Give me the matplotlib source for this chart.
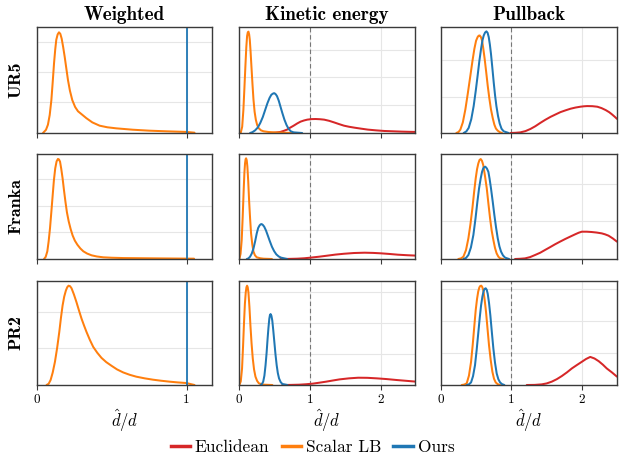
import matplotlib
matplotlib.use("Agg")
import matplotlib.pyplot as plt
from matplotlib.lines import Line2D

plt.rcParams['font.family'] = ['cmr10']
plt.rcParams['mathtext.fontset'] = 'cm'
plt.rcParams['axes.unicode_minus'] = False

# ---------------- data (relative density) ----------------
robots = ["UR5", "Franka", "PR2"]
methods = ["Weighted", "Kinetic energy", "Pullback"]
legend_labels = ["Euclidean", "Scalar LB", "Ours"]

# UR5 - Weighted
ur5_w_lb_x = [0.04, 0.06, 0.073, 0.085, 0.096, 0.105, 0.114, 0.122, 0.129, 0.138, 0.147, 0.156, 0.165, 0.175, 0.185, 0.196, 0.207, 0.22, 0.236, 0.255, 0.274, 0.30, 0.33, 0.37, 0.419, 0.47, 0.53, 0.64, 0.75, 0.864, 1.0, 1.053]
ur5_w_lb_y = [0.0, 0.03, 0.078, 0.17, 0.31, 0.48, 0.66, 0.79, 0.88, 0.93, 0.95, 0.935, 0.89, 0.81, 0.72, 0.61, 0.50, 0.40, 0.31, 0.245, 0.205, 0.175, 0.14, 0.10, 0.069, 0.054, 0.044, 0.031, 0.022, 0.016, 0.01, 0.003]
# UR5 - Kinetic energy
ur5_k_lb_x = [0.024, 0.045, 0.062, 0.076, 0.09, 0.103, 0.114, 0.124, 0.133, 0.143, 0.152, 0.163, 0.175, 0.19, 0.204, 0.22, 0.237, 0.255, 0.275, 0.31, 0.346, 0.41, 0.488, 0.77]
ur5_k_lb_y = [0.0, 0.06, 0.22, 0.42, 0.63, 0.81, 0.915, 0.95, 0.956, 0.93, 0.88, 0.77, 0.63, 0.46, 0.315, 0.20, 0.126, 0.078, 0.047, 0.025, 0.016, 0.01, 0.006, 0.0]
ur5_k_ours_x = [0.156, 0.19, 0.227, 0.265, 0.30, 0.335, 0.37, 0.40, 0.43, 0.455, 0.474, 0.49, 0.50, 0.518, 0.536, 0.56, 0.583, 0.61, 0.64, 0.67, 0.70, 0.73, 0.77, 0.89]
ur5_k_ours_y = [0.0, 0.008, 0.025, 0.052, 0.095, 0.15, 0.22, 0.28, 0.33, 0.36, 0.37, 0.375, 0.375, 0.365, 0.347, 0.305, 0.252, 0.19, 0.126, 0.075, 0.038, 0.016, 0.006, 0.0]
ur5_k_eu_x = [0.44, 0.52, 0.583, 0.63, 0.678, 0.72, 0.77, 0.82, 0.867, 0.915, 0.962, 1.02, 1.08, 1.14, 1.2, 1.27, 1.34, 1.41, 1.48, 1.55, 1.63, 1.72, 1.815, 1.93, 2.05, 2.17, 2.29, 2.4, 2.5]
ur5_k_eu_y = [0.0, 0.004, 0.01, 0.02, 0.032, 0.05, 0.069, 0.09, 0.107, 0.118, 0.126, 0.131, 0.132, 0.13, 0.126, 0.115, 0.10, 0.084, 0.069, 0.059, 0.05, 0.041, 0.032, 0.025, 0.019, 0.016, 0.013, 0.011, 0.01]
# UR5 - Pullback
ur5_p_lb_x = [0.218, 0.25, 0.275, 0.31, 0.346, 0.38, 0.417, 0.447, 0.474, 0.498, 0.52, 0.535, 0.55, 0.567, 0.583, 0.60, 0.62, 0.642, 0.664, 0.687, 0.71, 0.735, 0.758, 0.78, 0.806, 0.835, 0.867]
ur5_p_lb_y = [0.0, 0.01, 0.032, 0.10, 0.222, 0.37, 0.54, 0.68, 0.794, 0.87, 0.905, 0.918, 0.92, 0.905, 0.873, 0.80, 0.70, 0.575, 0.444, 0.325, 0.222, 0.14, 0.079, 0.042, 0.022, 0.008, 0.0]
ur5_p_ours_x = [0.322, 0.36, 0.393, 0.43, 0.464, 0.494, 0.52, 0.545, 0.569, 0.589, 0.607, 0.626, 0.645, 0.662, 0.678, 0.694, 0.71, 0.73, 0.749, 0.768, 0.787, 0.81, 0.834, 0.86, 0.89, 0.962]
ur5_p_ours_y = [0.0, 0.015, 0.048, 0.13, 0.254, 0.40, 0.54, 0.68, 0.794, 0.875, 0.92, 0.948, 0.959, 0.945, 0.905, 0.835, 0.746, 0.61, 0.476, 0.355, 0.254, 0.16, 0.089, 0.04, 0.016, 0.0]
ur5_p_eu_x = [0.986, 1.06, 1.128, 1.2, 1.27, 1.34, 1.41, 1.48, 1.555, 1.63, 1.697, 1.77, 1.84, 1.91, 1.98, 2.03, 2.076, 2.15, 2.22, 2.28, 2.34, 2.39, 2.43, 2.47, 2.5]
ur5_p_eu_y = [0.0, 0.002, 0.006, 0.018, 0.038, 0.064, 0.095, 0.124, 0.152, 0.176, 0.197, 0.214, 0.229, 0.24, 0.248, 0.252, 0.254, 0.253, 0.248, 0.235, 0.216, 0.196, 0.175, 0.152, 0.133]

# Franka - Weighted
fr_w_lb_x = [0.047, 0.058, 0.069, 0.078, 0.087, 0.096, 0.105, 0.113, 0.122, 0.131, 0.14, 0.147, 0.154, 0.162, 0.171, 0.18, 0.19, 0.2, 0.212, 0.225, 0.238, 0.253, 0.27, 0.29, 0.31, 0.335, 0.365, 0.4, 0.443, 0.5, 0.577, 0.8, 1.05]
fr_w_lb_y = [0.0, 0.02, 0.073, 0.17, 0.294, 0.45, 0.61, 0.75, 0.864, 0.93, 0.953, 0.948, 0.927, 0.86, 0.77, 0.66, 0.547, 0.445, 0.358, 0.285, 0.225, 0.175, 0.136, 0.1, 0.073, 0.052, 0.035, 0.024, 0.016, 0.012, 0.009, 0.006, 0.003]
# Franka - Kinetic energy
fr_k_lb_x = [0.005, 0.022, 0.038, 0.052, 0.066, 0.076, 0.085, 0.093, 0.10, 0.109, 0.118, 0.13, 0.142, 0.156, 0.17, 0.187, 0.204, 0.225, 0.25, 0.3, 0.346, 0.464]
fr_k_lb_y = [0.0, 0.05, 0.18, 0.40, 0.657, 0.82, 0.91, 0.95, 0.959, 0.94, 0.88, 0.74, 0.562, 0.39, 0.244, 0.14, 0.07, 0.035, 0.016, 0.007, 0.003, 0.0]
fr_k_ours_x = [0.11, 0.133, 0.156, 0.18, 0.204, 0.228, 0.25, 0.27, 0.29, 0.305, 0.318, 0.335, 0.355, 0.38, 0.403, 0.433, 0.464, 0.495, 0.526, 0.56, 0.592, 0.678]
fr_k_ours_y = [0.0, 0.006, 0.022, 0.052, 0.10, 0.17, 0.244, 0.295, 0.32, 0.33, 0.333, 0.325, 0.308, 0.272, 0.229, 0.172, 0.117, 0.075, 0.044, 0.024, 0.013, 0.0]
fr_k_eu_x = [0.583, 0.7, 0.82, 0.92, 1.01, 1.13, 1.246, 1.36, 1.48, 1.62, 1.77, 1.89, 2.0, 2.12, 2.24, 2.37, 2.5]
fr_k_eu_y = [0.0, 0.001, 0.003, 0.007, 0.013, 0.022, 0.032, 0.042, 0.05, 0.057, 0.06, 0.058, 0.054, 0.048, 0.041, 0.036, 0.032]
# Franka - Pullback
fr_p_lb_x = [0.246, 0.285, 0.318, 0.355, 0.389, 0.418, 0.446, 0.47, 0.493, 0.512, 0.53, 0.547, 0.564, 0.582, 0.60, 0.625, 0.65, 0.673, 0.697, 0.72, 0.744, 0.767, 0.79, 0.815, 0.84, 0.886]
fr_p_lb_y = [0.0, 0.006, 0.022, 0.085, 0.197, 0.33, 0.483, 0.635, 0.768, 0.855, 0.91, 0.943, 0.952, 0.935, 0.895, 0.79, 0.673, 0.53, 0.387, 0.27, 0.181, 0.105, 0.054, 0.022, 0.006, 0.0]
fr_p_ours_x = [0.318, 0.355, 0.389, 0.425, 0.46, 0.49, 0.517, 0.54, 0.564, 0.583, 0.60, 0.615, 0.63, 0.652, 0.673, 0.69, 0.71, 0.735, 0.758, 0.782, 0.806, 0.83, 0.853, 0.88, 0.91, 0.967]
fr_p_ours_y = [0.0, 0.01, 0.038, 0.11, 0.229, 0.385, 0.546, 0.67, 0.768, 0.83, 0.863, 0.876, 0.879, 0.862, 0.83, 0.765, 0.673, 0.545, 0.419, 0.3, 0.197, 0.12, 0.07, 0.035, 0.013, 0.0]
fr_p_eu_x = [1.052, 1.12, 1.194, 1.265, 1.336, 1.41, 1.478, 1.55, 1.62, 1.69, 1.763, 1.835, 1.905, 1.955, 2.0, 2.07, 2.14, 2.21, 2.284, 2.33, 2.38, 2.44, 2.5]
fr_p_eu_y = [0.0, 0.002, 0.006, 0.018, 0.038, 0.06, 0.086, 0.113, 0.14, 0.165, 0.19, 0.213, 0.235, 0.25, 0.26, 0.26, 0.257, 0.252, 0.244, 0.235, 0.222, 0.196, 0.165]

# PR2 - Weighted
pr_w_lb_x = [0.064, 0.078, 0.091, 0.105, 0.12, 0.135, 0.149, 0.16, 0.171, 0.182, 0.193, 0.202, 0.211, 0.221, 0.231, 0.247, 0.264, 0.281, 0.298, 0.315, 0.331, 0.353, 0.376, 0.403, 0.431, 0.463, 0.498, 0.535, 0.576, 0.62, 0.664, 0.72, 0.776, 0.83, 0.887, 0.94, 0.998, 1.053]
pr_w_lb_y = [0.0, 0.012, 0.048, 0.12, 0.223, 0.36, 0.51, 0.645, 0.764, 0.85, 0.908, 0.94, 0.955, 0.95, 0.93, 0.87, 0.796, 0.715, 0.637, 0.57, 0.51, 0.435, 0.366, 0.31, 0.261, 0.22, 0.185, 0.15, 0.121, 0.098, 0.08, 0.064, 0.051, 0.041, 0.032, 0.025, 0.019, 0.0]
# PR2 - Kinetic energy
pr_k_lb_x = [0.005, 0.025, 0.043, 0.057, 0.071, 0.083, 0.095, 0.105, 0.114, 0.123, 0.133, 0.147, 0.161, 0.177, 0.194, 0.212, 0.232, 0.255, 0.28, 0.35, 0.47]
pr_k_lb_y = [0.0, 0.035, 0.159, 0.37, 0.605, 0.78, 0.89, 0.94, 0.955, 0.94, 0.89, 0.75, 0.573, 0.4, 0.255, 0.15, 0.08, 0.04, 0.016, 0.003, 0.0]
pr_k_ours_x = [0.303, 0.322, 0.341, 0.358, 0.374, 0.389, 0.403, 0.415, 0.427, 0.436, 0.445, 0.457, 0.469, 0.483, 0.498, 0.514, 0.531, 0.547, 0.564, 0.587, 0.611, 0.682]
pr_k_ours_y = [0.0, 0.008, 0.032, 0.09, 0.19, 0.31, 0.446, 0.55, 0.637, 0.672, 0.682, 0.665, 0.62, 0.525, 0.414, 0.295, 0.19, 0.115, 0.064, 0.028, 0.01, 0.0]
pr_k_eu_x = [0.61, 0.73, 0.848, 0.94, 1.04, 1.13, 1.227, 1.32, 1.417, 1.55, 1.68, 1.81, 1.94, 2.08, 2.22, 2.36, 2.5]
pr_k_eu_y = [0.0, 0.001, 0.003, 0.007, 0.013, 0.022, 0.032, 0.043, 0.054, 0.064, 0.07, 0.069, 0.064, 0.057, 0.048, 0.04, 0.032]
# PR2 - Pullback
pr_p_lb_x = [0.294, 0.33, 0.365, 0.397, 0.427, 0.451, 0.474, 0.493, 0.512, 0.529, 0.545, 0.559, 0.573, 0.587, 0.602, 0.62, 0.64, 0.661, 0.682, 0.706, 0.73, 0.753, 0.777, 0.805, 0.84]
pr_p_lb_y = [0.0, 0.004, 0.016, 0.09, 0.223, 0.39, 0.573, 0.72, 0.828, 0.9, 0.939, 0.953, 0.955, 0.94, 0.908, 0.82, 0.70, 0.54, 0.382, 0.24, 0.127, 0.06, 0.025, 0.008, 0.0]
pr_p_ours_x = [0.365, 0.397, 0.427, 0.455, 0.483, 0.507, 0.531, 0.55, 0.569, 0.588, 0.607, 0.621, 0.635, 0.65, 0.664, 0.682, 0.701, 0.722, 0.744, 0.767, 0.791, 0.815, 0.839, 0.865, 0.9]
pr_p_ours_y = [0.0, 0.006, 0.025, 0.085, 0.19, 0.34, 0.51, 0.645, 0.764, 0.85, 0.908, 0.925, 0.93, 0.915, 0.876, 0.79, 0.67, 0.51, 0.35, 0.215, 0.111, 0.055, 0.025, 0.009, 0.0]
pr_p_eu_x = [1.218, 1.33, 1.43, 1.5, 1.573, 1.645, 1.716, 1.79, 1.858, 1.93, 2.0, 2.06, 2.12, 2.18, 2.24, 2.3, 2.355, 2.43, 2.5]
pr_p_eu_y = [0.0, 0.001, 0.006, 0.015, 0.032, 0.056, 0.086, 0.122, 0.159, 0.192, 0.223, 0.25, 0.27, 0.255, 0.229, 0.195, 0.159, 0.12, 0.08]

# Weighted column: "Ours" is exactly at ratio 1
weighted_ours_value = 1.0

# y-grid levels of each panel (relative)
grid_levels = [
    [[0.288, 0.574, 0.862], [0.265, 0.527, 0.785], [0.343, 0.686]],
    [[0.256, 0.506, 0.759], [0.273, 0.549, 0.825], [0.359, 0.717]],
    [[0.354, 0.701], [0.296, 0.596, 0.898], [0.303, 0.611, 0.924]],
]

curves = [
    [
        {"lb": (ur5_w_lb_x, ur5_w_lb_y)},
        {"eu": (ur5_k_eu_x, ur5_k_eu_y), "lb": (ur5_k_lb_x, ur5_k_lb_y), "ours": (ur5_k_ours_x, ur5_k_ours_y)},
        {"eu": (ur5_p_eu_x, ur5_p_eu_y), "lb": (ur5_p_lb_x, ur5_p_lb_y), "ours": (ur5_p_ours_x, ur5_p_ours_y)},
    ],
    [
        {"lb": (fr_w_lb_x, fr_w_lb_y)},
        {"eu": (fr_k_eu_x, fr_k_eu_y), "lb": (fr_k_lb_x, fr_k_lb_y), "ours": (fr_k_ours_x, fr_k_ours_y)},
        {"eu": (fr_p_eu_x, fr_p_eu_y), "lb": (fr_p_lb_x, fr_p_lb_y), "ours": (fr_p_ours_x, fr_p_ours_y)},
    ],
    [
        {"lb": (pr_w_lb_x, pr_w_lb_y)},
        {"eu": (pr_k_eu_x, pr_k_eu_y), "lb": (pr_k_lb_x, pr_k_lb_y), "ours": (pr_k_ours_x, pr_k_ours_y)},
        {"eu": (pr_p_eu_x, pr_p_eu_y), "lb": (pr_p_lb_x, pr_p_lb_y), "ours": (pr_p_ours_x, pr_p_ours_y)},
    ],
]

colors = {"eu": "#d62728", "lb": "#ff7f0e", "ours": "#1f77b4"}

# ---------------- figure ----------------
W, H = 625, 455
fig = plt.figure(figsize=(W / 100, H / 100), dpi=100)

col_px = [(37, 212), (239, 415), (441, 617)]
row_px = [(27, 133), (154, 259), (281, 385)]
xlims = [(0, 1.17), (0, 2.48), (0, 2.5)]
xticks = [[0, 1], [0, 1, 2], [0, 1, 2]]

spine_col = "#3a3a3a"
for r in range(3):
    for c in range(3):
        x0, x1 = col_px[c]
        y0, y1 = row_px[r]
        ax = fig.add_axes([x0 / W, 1 - y1 / H, (x1 - x0) / W, (y1 - y0) / H])
        ax.set_xlim(*xlims[c])
        ax.set_ylim(0, 1.0)
        ax.set_xticks(xticks[c])
        ax.set_yticks(grid_levels[r][c])
        ax.set_yticklabels([])
        ax.tick_params(axis='y', length=0)
        ax.tick_params(axis='x', length=3.5, width=0.8, color=spine_col, labelsize=9.5, pad=3)
        if r < 2:
            ax.set_xticklabels([])
        ax.grid(True, color="#e6e6e6", lw=0.8)
        ax.set_axisbelow(True)
        for s in ax.spines.values():
            s.set_color(spine_col)
            s.set_linewidth(1.0)
        if c > 0:
            ax.axvline(1.0, color="#777777", lw=0.8, ls=(0, (4, 2.5)), zorder=1.5)
        d = curves[r][c]
        for key in ["eu", "lb", "ours"]:
            if key in d:
                xs, ys = d[key]
                ax.plot(xs, ys, color=colors[key], lw=1.45, zorder=2,
                        solid_capstyle='round', solid_joinstyle='round')
        if c == 0:
            ax.axvline(weighted_ours_value, color=colors["ours"], lw=1.3, zorder=2.5)
            ax.set_ylabel(robots[r], family='cmb10', fontsize=13, labelpad=6)
        if r == 0:
            ax.set_title(methods[c], family='cmb10', fontsize=13.8, pad=5)
        if r == 2:
            ax.set_xlabel(r"$\hat{d}/d$", fontsize=12, labelpad=1)

handles = [Line2D([], [], color=colors[k], lw=2.5) for k in ["eu", "lb", "ours"]]
fig.legend(handles, legend_labels, loc='lower center', bbox_to_anchor=(0.5, -0.035), ncol=3,
           frameon=False, fontsize=12.5, handlelength=1.1, handletextpad=0.3, columnspacing=0.7)

fig.savefig("out.png", dpi=100)
